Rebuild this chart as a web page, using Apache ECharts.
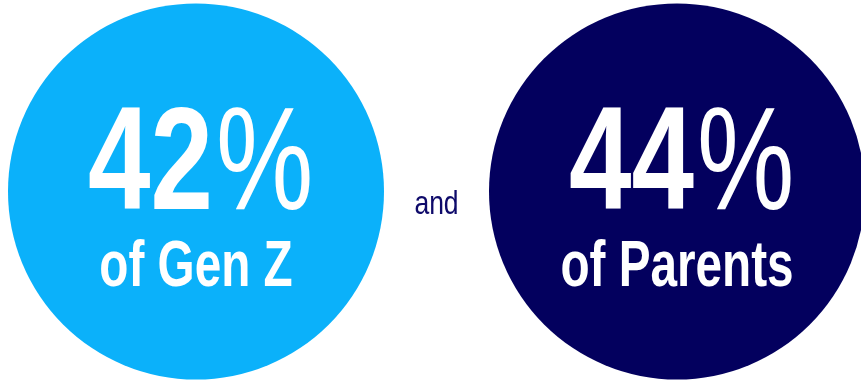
<!DOCTYPE html>
<html>
<head>
<meta charset="utf-8">
<script src="https://cdn.jsdelivr.net/npm/echarts@6/dist/echarts.min.js"></script>
<style>
html, body { margin: 0; padding: 0; background: #fff; }
#echart { width: 861px; height: 383px; }
</style>
</head>
<body>
<div id="echart"></div>
<script>
// chart data
var groups = ['of Gen Z', 'of Parents'];
var percents = [42, 44];
var colors = ['#0BB1FA', '#03005E'];
var joinWord = 'and';

var FONT = "'Liberation Sans', Arial, sans-serif";

var chart = echarts.init(document.getElementById('echart'));

// text is squeezed horizontally to look like a condensed face
function txt(x, y, text, font, align, scale, color) {
    return {
        type: 'text',
        x: x,
        y: y,
        scaleX: scale,
        z2: 10,
        style: {
            text: text,
            font: font,
            fill: color,
            align: align,
            verticalAlign: 'middle'
        }
    };
}

chart.setOption({
    animation: false,
    grid: {
        left: 196,
        right: 184,
        top: 0,
        height: 388
    },
    xAxis: { type: 'value', min: 0, max: 1, show: false },
    yAxis: { type: 'value', min: -1, max: 1, show: false },
    series: [{
        type: 'scatter',
        symbol: 'circle',
        symbolSize: 376,
        silent: true,
        z: 1,
        data: groups.map(function (g, i) {
            return { value: [i, 0], itemStyle: { color: colors[i], opacity: 1 } };
        })
    }, {
        type: 'custom',
        silent: true,
        z: 10,
        data: groups.map(function (g, i) { return [i, 0]; }),
        renderItem: function (params, api) {
            var i = params.dataIndex;
            var c = api.coord([api.value(0), api.value(1)]);
            return {
                type: 'group',
                children: [
                    txt(c[0] + 17, c[1] - 23, String(percents[i]), 'bold 146px ' + FONT, 'right', 0.77, '#fff'),
                    txt(c[0] + 20, c[1] - 23, '%', 'normal 146px ' + FONT, 'left', 0.75, '#fff'),
                    txt(c[0], c[1] + 77, groups[i], 'bold 64px ' + FONT, 'center', 0.745, '#fff')
                ]
            };
        }
    }, {
        type: 'custom',
        silent: true,
        z: 10,
        data: [[0.5, 0]],
        renderItem: function (params, api) {
            var c = api.coord([api.value(0), api.value(1)]);
            return txt(c[0], c[1] + 13, joinWord, 'normal 34px ' + FONT, 'center', 0.78, '#0E0A6A');
        }
    }]
});
</script>
</body>
</html>
